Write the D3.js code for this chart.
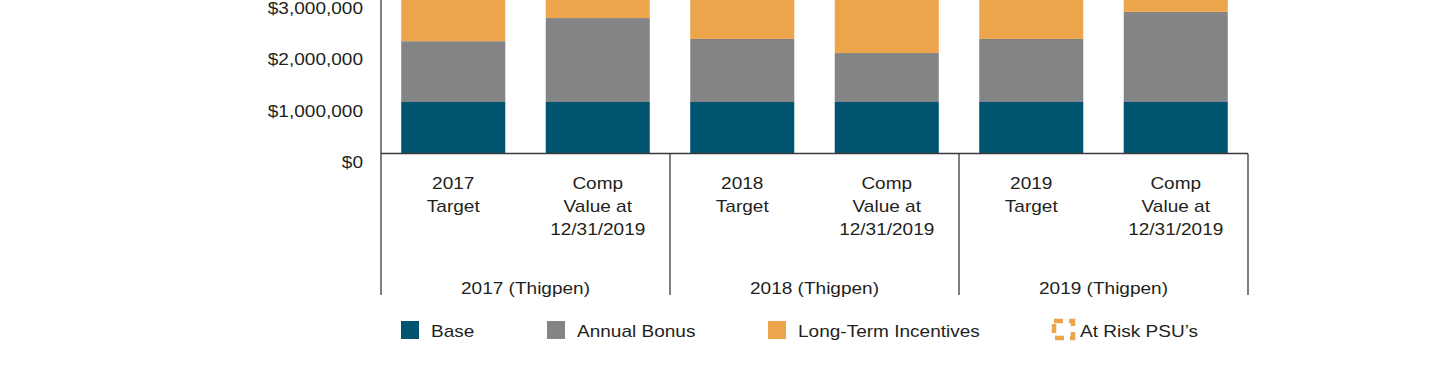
<!DOCTYPE html>
<meta charset="utf-8">
<head>
  <title>Thigpen compensation</title>
  <script src="https://d3js.org/d3.v7.min.js"></script>
  <style type=text/css>
    body { margin: 0; background: #fff; }
    text { font-family: "Liberation Sans", Arial, sans-serif; fill: #231f20; }
  </style>
</head>
<body>
<div id="my_dataviz"></div>
<script>
  // values (tops of the orange parts are cut off)
  const categories = ["2017 Target", "2017 Comp", "2018 Target", "2018 Comp", "2019 Target", "2019 Comp"];
  const catLines = [["2017", "Target"], ["Comp", "Value at", "12/31/2019"],
                    ["2018", "Target"], ["Comp", "Value at", "12/31/2019"],
                    ["2019", "Target"], ["Comp", "Value at", "12/31/2019"]];
  const groups = ["2017 (Thigpen)", "2018 (Thigpen)", "2019 (Thigpen)"];
  const base  = [1000000, 1000000, 1000000, 1000000, 1000000, 1000000];
  const bonus = [1180000, 1630000, 1225000, 950000, 1225000, 1750000];
  const lti   = [3400000, 2100000, 3400000, 3300000, 3400000, 1900000];
  const atRisk = [0, 900000, 0, 600000, 0, 1200000];
  const yTicks = [0, 1000000, 2000000, 3000000];
  const legendLabels = ["Base", "Annual Bonus", "Long-Term Incentives", "At Risk PSU\u2019s"];

  const colors = {base: "#01546f", bonus: "#838486", lti: "#eda54c"};
  const sx = 1.12; // the type in the picture is a bit wide

  const width = 1440, height = 375;
  const svg = d3.select("#my_dataviz").append("svg")
    .attr("width", width).attr("height", height);

  const x = d3.scaleBand().domain(categories).range([381, 1248])
    .paddingInner(0.28).paddingOuter(0.14);
  const y = d3.scaleLinear().domain([0, 3000000]).range([153.5, -1]);

  // stacked data
  const rows = categories.map((c, i) => ({cat: c, base: base[i], bonus: bonus[i], lti: lti[i], atRisk: atRisk[i]}));
  const stack = d3.stack().keys(["base", "bonus", "lti"])(rows);

  svg.append("g").selectAll("g")
    .data(stack).enter().append("g")
      .attr("fill", d => colors[d.key])
    .selectAll("rect")
    .data(d => d).enter().append("rect")
      .attr("x", d => x(d.data.cat))
      .attr("width", x.bandwidth())
      .attr("y", d => y(d[1]))
      .attr("height", d => y(d[0]) - y(d[1]));

  // at risk PSU outline above the stack
  svg.append("g").selectAll("rect")
    .data(rows.filter(d => d.atRisk > 0)).enter().append("rect")
      .attr("x", d => x(d.cat) + 2)
      .attr("width", x.bandwidth() - 4)
      .attr("y", d => y(d.base + d.bonus + d.lti + d.atRisk))
      .attr("height", d => y(0) - y(d.atRisk))
      .attr("fill", "none").attr("stroke", colors.lti)
      .attr("stroke-width", 4).attr("stroke-dasharray", "10 5");

  // axes lines
  const lineCol = "#3a3a3a";
  svg.append("line").attr("x1", 381).attr("x2", 381).attr("y1", 0).attr("y2", 295)
    .attr("stroke", lineCol).attr("stroke-width", 1.3);
  svg.append("line").attr("x1", 381).attr("x2", 1248).attr("y1", y(0)).attr("y2", y(0))
    .attr("stroke", lineCol).attr("stroke-width", 1.3);
  const groupEdges = groups.map((g, i) => x(categories[i * 2 + 1]) + x.bandwidth() + x.step() * 0.14);
  svg.append("g").selectAll("line")
    .data(groupEdges).enter().append("line")
      .attr("x1", d => d).attr("x2", d => d)
      .attr("y1", y(0)).attr("y2", 295)
      .attr("stroke", lineCol).attr("stroke-width", 1.3);

  // y tick labels
  const fmt = d3.format("$,");
  svg.append("g").selectAll("text")
    .data(yTicks).enter().append("text")
      .attr("transform", d => "translate(363," + (y(d) + 9) + ") scale(" + sx + ",1)")
      .attr("text-anchor", "end").attr("dy", "0.35em")
      .style("font-size", "17px")
      .text(d => fmt(d));

  // category labels
  const cats = svg.append("g").selectAll("g")
    .data(categories).enter().append("g")
      .attr("transform", d => "translate(" + (x(d) + x.bandwidth() / 2) + ",0)");
  cats.selectAll("text")
    .data((d, i) => catLines[i]).enter().append("text")
      .attr("transform", (d, j) => "translate(0," + (183 + j * 23) + ") scale(" + sx + ",1)")
      .attr("text-anchor", "middle").attr("dy", "0.35em")
      .style("font-size", "17px")
      .text(d => d);

  // group labels
  svg.append("g").selectAll("text")
    .data(groups).enter().append("text")
      .attr("transform", (d, i) => "translate(" + ((x(categories[i * 2]) + x(categories[i * 2 + 1]) + x.bandwidth()) / 2) + ",288) scale(" + sx + ",1)")
      .attr("text-anchor", "middle").attr("dy", "0.35em")
      .style("font-size", "17px")
      .text(d => d);

  // legend
  const legX = [401, 547, 768, 1054];
  const legColors = [colors.base, colors.bonus, colors.lti, null];
  const leg = svg.append("g").selectAll("g")
    .data(legendLabels).enter().append("g")
      .attr("transform", (d, i) => "translate(" + legX[i] + ",321)");
  leg.filter((d, i) => legColors[i]).append("rect")
    .attr("width", 18).attr("height", 18)
    .attr("fill", (d, i) => legColors[legendLabels.indexOf(d)]);
  leg.filter((d, i) => !legColors[i]).append("rect")
    .attr("x", 0).attr("y", 0).attr("width", 19).attr("height", 17)
    .attr("fill", "none").attr("stroke", colors.lti).attr("stroke-width", 4.5)
    .attr("stroke-dasharray", "9 6");
  leg.append("text")
    .attr("transform", (d, i) => "translate(" + (i === 3 ? 26 : 30) + ",10) scale(" + sx + ",1)")
    .attr("dy", "0.35em")
    .style("font-size", "17px")
    .text(d => d);
</script>
</body>
